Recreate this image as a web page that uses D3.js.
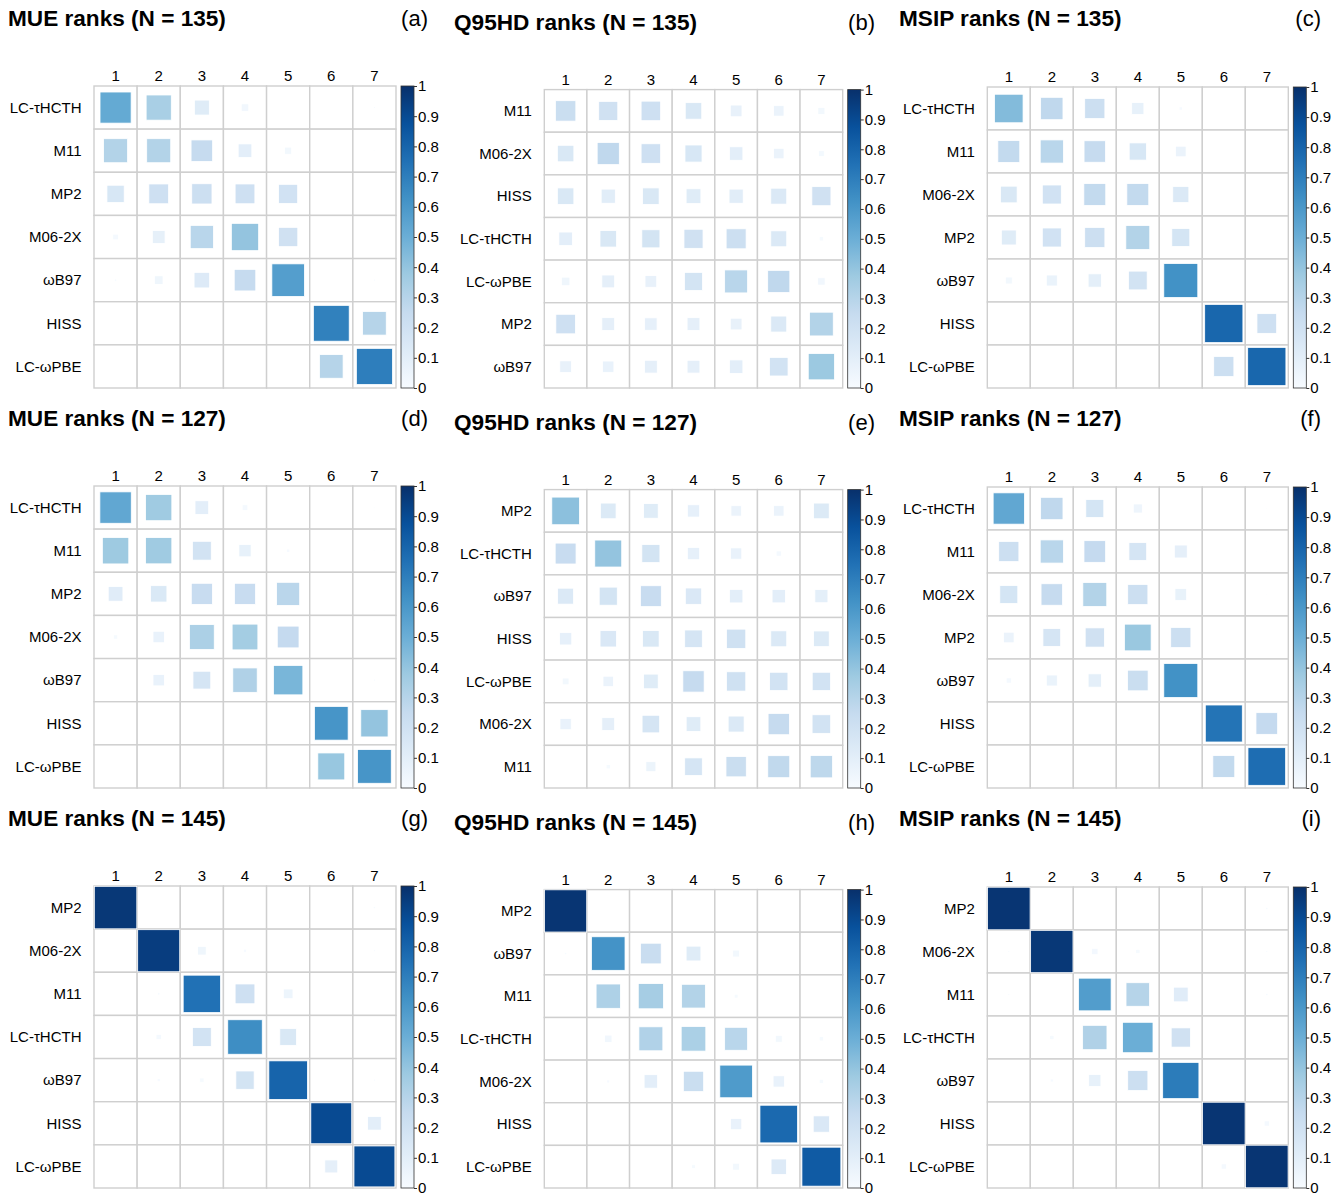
<!DOCTYPE html>
<html>
<head>
<meta charset="utf-8">
<script src="https://cdn.jsdelivr.net/npm/d3@7"></script>
<style>
  html, body { margin: 0; padding: 0; background: #fff; }
  svg text { font-family: "Liberation Sans", Arial, Helvetica, sans-serif; fill: #000; }
</style>
</head>
<body>
<svg id="chart" width="1336" height="1195"></svg>
<script>
// ---------------- DATA ----------------
const colLabels = ["1", "2", "3", "4", "5", "6", "7"];
const barTicks = [0, 0.1, 0.2, 0.3, 0.4, 0.5, 0.6, 0.7, 0.8, 0.9, 1];
const blues = ["#F7FBFF", "#DEEBF7", "#C6DBEF", "#9ECAE1", "#6BAED6", "#4292C6", "#2171B5", "#08519C", "#08306B"];

const titles = [
  "MUE ranks (N = 135)", "Q95HD ranks (N = 135)", "MSIP ranks (N = 135)",
  "MUE ranks (N = 127)", "Q95HD ranks (N = 127)", "MSIP ranks (N = 127)",
  "MUE ranks (N = 145)", "Q95HD ranks (N = 145)", "MSIP ranks (N = 145)"
];
const letters = ["(a)", "(b)", "(c)", "(d)", "(e)", "(f)", "(g)", "(h)", "(i)"];

// (a) MUE, N = 135
const rowsA = ["LC-τHCTH", "M11", "MP2", "M06-2X", "ωB97", "HISS", "LC-ωPBE"];
const valsA = [
  [0.52, 0.34, 0.12, 0.03, 0, 0, 0.002],
  [0.31, 0.31, 0.25, 0.10, 0.027, 0, 0.001],
  [0.16, 0.21, 0.22, 0.21, 0.195, 0, 0],
  [0.017, 0.087, 0.29, 0.40, 0.20, 0, 0],
  [0.003, 0.04, 0.13, 0.25, 0.57, 0, 0.002],
  [0, 0, 0, 0, 0, 0.69, 0.30],
  [0, 0, 0, 0, 0, 0.30, 0.70]
];
// (b) Q95HD, N = 135
const rowsB = ["M11", "M06-2X", "HISS", "LC-τHCTH", "LC-ωPBE", "MP2", "ωB97"];
const valsB = [
  [0.23, 0.20, 0.21, 0.15, 0.075, 0.06, 0.027],
  [0.15, 0.27, 0.21, 0.16, 0.10, 0.06, 0.018],
  [0.15, 0.11, 0.15, 0.12, 0.11, 0.14, 0.20],
  [0.10, 0.15, 0.18, 0.20, 0.22, 0.14, 0.01],
  [0.04, 0.09, 0.075, 0.18, 0.29, 0.27, 0.03],
  [0.21, 0.09, 0.085, 0.09, 0.075, 0.14, 0.31],
  [0.075, 0.07, 0.09, 0.09, 0.10, 0.19, 0.38]
];
// (c) MSIP, N = 135
const rowsC = ["LC-τHCTH", "M11", "M06-2X", "MP2", "ωB97", "HISS", "LC-ωPBE"];
const valsC = [
  [0.44, 0.27, 0.22, 0.08, 0.006, 0, 0],
  [0.26, 0.29, 0.25, 0.16, 0.06, 0, 0],
  [0.15, 0.195, 0.26, 0.26, 0.14, 0, 0],
  [0.12, 0.195, 0.22, 0.31, 0.175, 0, 0],
  [0.026, 0.065, 0.096, 0.19, 0.625, 0, 0],
  [0, 0, 0, 0, 0, 0.79, 0.21],
  [0, 0, 0, 0, 0, 0.22, 0.79]
];
// (d) MUE, N = 127
const rowsD = ["LC-τHCTH", "M11", "MP2", "M06-2X", "ωB97", "HISS", "LC-ωPBE"];
const valsD = [
  [0.53, 0.37, 0.10, 0.017, 0, 0, 0.001],
  [0.375, 0.37, 0.19, 0.08, 0.006, 0, 0.001],
  [0.116, 0.144, 0.24, 0.24, 0.286, 0, 0],
  [0.01, 0.07, 0.33, 0.356, 0.254, 0, 0],
  [0.002, 0.07, 0.17, 0.32, 0.465, 0, 0.002],
  [0, 0, 0, 0, 0, 0.61, 0.40],
  [0, 0, 0, 0, 0, 0.39, 0.61]
];
// (e) Q95HD, N = 127
const rowsE = ["MP2", "LC-τHCTH", "ωB97", "HISS", "LC-ωPBE", "M06-2X", "M11"];
const valsE = [
  [0.42, 0.135, 0.118, 0.083, 0.059, 0.06, 0.135],
  [0.24, 0.40, 0.18, 0.083, 0.07, 0.015, 0],
  [0.14, 0.18, 0.24, 0.147, 0.10, 0.098, 0.094],
  [0.083, 0.147, 0.15, 0.17, 0.205, 0.14, 0.135],
  [0.025, 0.06, 0.118, 0.25, 0.205, 0.185, 0.185],
  [0.07, 0.09, 0.17, 0.118, 0.14, 0.25, 0.19],
  [0, 0.01, 0.055, 0.17, 0.227, 0.266, 0.274]
];
// (f) MSIP, N = 127
const rowsF = ["LC-τHCTH", "M11", "M06-2X", "MP2", "ωB97", "HISS", "LC-ωPBE"];
const valsF = [
  [0.53, 0.27, 0.175, 0.044, 0, 0, 0.001],
  [0.22, 0.29, 0.254, 0.17, 0.09, 0, 0.001],
  [0.175, 0.25, 0.31, 0.22, 0.074, 0, 0.001],
  [0.06, 0.17, 0.20, 0.385, 0.22, 0, 0],
  [0.015, 0.065, 0.096, 0.23, 0.625, 0, 0],
  [0, 0, 0, 0, 0, 0.74, 0.254],
  [0, 0, 0, 0, 0, 0.26, 0.767]
];
// (g) MUE, N = 145
const rowsG = ["MP2", "M06-2X", "M11", "LC-τHCTH", "ωB97", "HISS", "LC-ωPBE"];
const valsG = [
  [0.97, 0, 0, 0, 0, 0, 0.003],
  [0, 0.95, 0.04, 0.005, 0, 0, 0.002],
  [0, 0.003, 0.75, 0.21, 0.05, 0, 0],
  [0, 0.015, 0.19, 0.64, 0.15, 0, 0],
  [0.002, 0.005, 0.01, 0.18, 0.80, 0, 0.002],
  [0, 0, 0, 0, 0, 0.90, 0.10],
  [0, 0, 0, 0, 0, 0.09, 0.90]
];
// (h) Q95HD, N = 145
const rowsH = ["MP2", "ωB97", "M11", "LC-τHCTH", "M06-2X", "HISS", "LC-ωPBE"];
const valsH = [
  [0.98, 0, 0, 0, 0, 0, 0],
  [0.003, 0.62, 0.235, 0.12, 0.026, 0, 0],
  [0.002, 0.325, 0.35, 0.31, 0.008, 0, 0],
  [0, 0.03, 0.316, 0.334, 0.29, 0.026, 0.01],
  [0, 0.005, 0.10, 0.227, 0.586, 0.07, 0.01],
  [0, 0, 0, 0, 0.07, 0.78, 0.147],
  [0, 0, 0, 0.008, 0.026, 0.13, 0.835]
];
// (i) MSIP, N = 145
const rowsI = ["MP2", "M06-2X", "M11", "LC-τHCTH", "ωB97", "HISS", "LC-ωPBE"];
const valsI = [
  [0.98, 0, 0, 0, 0, 0, 0.003],
  [0.002, 0.97, 0.022, 0.01, 0, 0, 0.002],
  [0.002, 0, 0.577, 0.30, 0.116, 0, 0.003],
  [0, 0.01, 0.32, 0.50, 0.20, 0, 0],
  [0, 0.005, 0.08, 0.22, 0.71, 0, 0],
  [0, 0, 0, 0, 0, 0.98, 0.015],
  [0, 0, 0, 0, 0, 0.015, 0.98]
];

const panelRows = [rowsA, rowsB, rowsC, rowsD, rowsE, rowsF, rowsG, rowsH, rowsI];
const panelVals = [valsA, valsB, valsC, valsD, valsE, valsF, valsG, valsH, valsI];

// ---------------- LAYOUT ----------------
const colLayout = [
  { gridLeft: 94, gridRight: 396, gridBottom: 388, titleX: 8, titleY: 26, letterX: 428 },
  { gridLeft: 544.3, gridRight: 842.7, gridBottom: 388, titleX: 454, titleY: 30, letterX: 875 },
  { gridLeft: 987.3, gridRight: 1288.3, gridBottom: 388, titleX: 899, titleY: 26, letterX: 1321 }
];
const rowOffset = 400;

const svg = d3.select("#chart");
svg.append("rect").attr("width", 1336).attr("height", 1195).attr("fill", "#fff");

const colorStops = d3.range(blues.length).map(i => i / (blues.length - 1));
const color = d3.scaleLinear().domain(colorStops).range(blues).clamp(true);

const defs = svg.append("defs");
const grad = defs.append("linearGradient").attr("id", "bluesGrad")
  .attr("x1", "0").attr("y1", "1").attr("x2", "0").attr("y2", "0");
colorStops.forEach((s, i) => grad.append("stop").attr("offset", s).attr("stop-color", blues[i]));

for (let p = 0; p < 9; p++) {
  const r = Math.floor(p / 3), c = p % 3;
  const L = colLayout[c];
  const dy = r * rowOffset;
  const rows = panelRows[p];
  const vals = panelVals[p];
  const gridW = L.gridRight - L.gridLeft;
  const bottom = L.gridBottom + dy;
  const top = bottom - gridW;

  const g = svg.append("g");

  // title + letter
  g.append("text").attr("x", L.titleX).attr("y", L.titleY + dy)
    .attr("font-size", 22.6).attr("font-weight", "bold").text(titles[p]);
  g.append("text").attr("x", L.letterX).attr("y", L.titleY + dy)
    .attr("font-size", 22).attr("text-anchor", "end").text(letters[p]);

  const x = d3.scaleBand().domain(colLabels).range([L.gridLeft, L.gridRight]);
  const y = d3.scaleBand().domain(rows).range([top, bottom]);
  const side = d3.scaleSqrt().domain([0, 1]).range([0, x.bandwidth()]);

  // grid cells
  const cells = [];
  rows.forEach((rn, i) => colLabels.forEach((cn, j) => cells.push({ rn, cn, v: vals[i][j] })));
  g.append("g").selectAll("rect").data(cells).join("rect")
    .attr("x", d => x(d.cn)).attr("y", d => y(d.rn))
    .attr("width", x.bandwidth()).attr("height", y.bandwidth())
    .attr("fill", "#fff").attr("stroke", "#cfcfcf").attr("stroke-width", 1.4);

  // squares
  g.append("g").selectAll("rect").data(cells.filter(d => d.v > 0)).join("rect")
    .attr("x", d => x(d.cn) + x.bandwidth() / 2 - side(d.v) / 2)
    .attr("y", d => y(d.rn) + y.bandwidth() / 2 - side(d.v) / 2)
    .attr("width", d => side(d.v)).attr("height", d => side(d.v))
    .attr("fill", d => color(d.v))
    .attr("stroke", "#ffffff").attr("stroke-width", 0.8);

  // column labels
  g.append("g").selectAll("text").data(colLabels).join("text")
    .attr("x", d => x(d) + x.bandwidth() / 2).attr("y", top - 5)
    .attr("text-anchor", "middle").attr("font-size", 15).text(d => d);

  // row labels
  g.append("g").selectAll("text").data(rows).join("text")
    .attr("x", L.gridLeft - 12.5).attr("y", d => y(d) + y.bandwidth() / 2)
    .attr("dy", "0.35em")
    .attr("text-anchor", "end").attr("font-size", 15).text(d => d);

  // colour bar
  const barX = L.gridRight + 5, barW = 13;
  g.append("rect").attr("x", barX).attr("y", top).attr("width", barW).attr("height", bottom - top)
    .attr("fill", "url(#bluesGrad)").attr("stroke", "#333").attr("stroke-width", 0.8);
  const yb = d3.scaleLinear().domain([0, 1]).range([bottom, top]);
  const axis = d3.axisRight(yb).tickValues(barTicks).tickSize(3).tickPadding(1)
    .tickFormat(d3.format("~g"));
  const ax = g.append("g").attr("transform", `translate(${barX + barW},0)`).call(axis);
  ax.select(".domain").remove();
  ax.selectAll(".tick line").attr("stroke", "#333");
  ax.selectAll(".tick text").attr("font-size", 15)
    .attr("font-family", "'Liberation Sans', Arial, Helvetica, sans-serif").attr("fill", "#000");
}
</script>
</body>
</html>
